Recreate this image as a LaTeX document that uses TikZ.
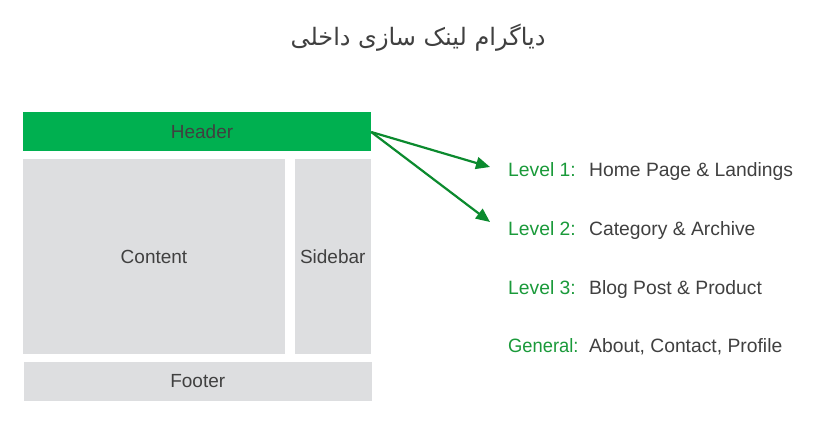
\documentclass[tikz,border=0pt]{standalone}
\usepackage{fontspec}
\setmainfont{Liberation Sans}
\newfontfamily\arabicfont[Script=Arabic]{DejaVu Sans}
\newfontfamily\narrowfont[FakeStretch=0.95]{Liberation Sans}
\TeXXeTstate=1
\usetikzlibrary{arrows.meta}
\definecolor{hdrgreen}{HTML}{00B050}
\definecolor{boxgray}{HTML}{DDDEE0}
\definecolor{txtgray}{HTML}{404040}
\definecolor{lvlgreen}{HTML}{1A9A3A}
\definecolor{arrgreen}{HTML}{0B8A2E}
\begin{document}
\begin{tikzpicture}[x=1pt,y=-1pt,
  box/.style={draw=none, inner sep=0pt, text=txtgray, font=\fontsize{19}{23}\selectfont},
  lvl/.style={anchor=base west, inner sep=0pt, text=lvlgreen, font=\fontsize{19.3}{23}\selectfont},
  val/.style={anchor=base west, inner sep=0pt, text=txtgray, font=\fontsize{19.3}{23}\selectfont},
  link/.style={draw=arrgreen, line width=2.2pt, -{Triangle[length=14pt,width=12pt]}}
]
\useasboundingbox[fill=white] (0,0) rectangle (825,441);
\node[text=txtgray, font=\arabicfont\fontsize{24}{29}\selectfont] (title) at (418,38) {\beginR دیاگرام لینک سازی داخلی\endR};
\node[box, fill=hdrgreen, text=txtgray, minimum width=348pt, minimum height=39pt] (header) at (197,132) {\hspace{10pt}Header};
\node[box, fill=boxgray, minimum width=262pt, minimum height=195pt] (content) at (154,256.5) {Content};
\node[box, fill=boxgray, minimum width=76.5pt, minimum height=195pt] (sidebar) at (332.75,256.5) {Sidebar};
\node[box, fill=boxgray, minimum width=348.5pt, minimum height=39pt] (footer) at (197.75,381.5) {Footer};
\node[lvl] (l1) at (508,176.5) {Level 1:};
\node[val] (v1) at (589,176.5) {Home Page \& Landings};
\node[lvl] (l2) at (508,235.5) {Level 2:};
\node[val] (v2) at (589,235.5) {Category \& Archive};
\node[lvl] (l3) at (508,294) {Level 3:};
\node[val] (v3) at (589,294) {Blog Post \& Product};
\node[lvl, font=\narrowfont\fontsize{19.3}{23}\selectfont] (l4) at (508,352.5) {General:};
\node[val] (v4) at (589,352.5) {About, Contact, Profile};
\coordinate (t1) at (490,167);
\coordinate (t2) at (490,222);
\draw[link] (header.east) -- (t1);
\draw[link] (header.east) -- (t2);
\end{tikzpicture}
\end{document}
